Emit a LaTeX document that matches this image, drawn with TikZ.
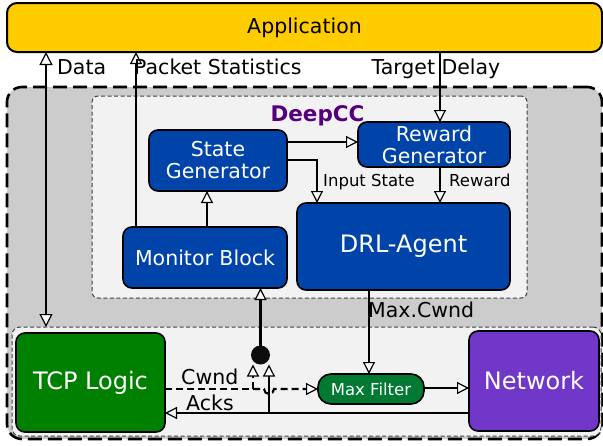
\documentclass[tikz,border=0pt]{standalone}
\usepackage{fontspec}
\setmainfont{DejaVu Sans}
\usetikzlibrary{arrows.meta}
\definecolor{appY}{HTML}{FFCC00}
\definecolor{blkB}{HTML}{0044AA}
\definecolor{tcpG}{HTML}{008000}
\definecolor{mfG}{HTML}{007A33}
\definecolor{netP}{HTML}{7137C8}
\definecolor{areaG}{HTML}{CCCCCC}
\definecolor{paneG}{HTML}{F2F2F2}
\definecolor{ccP}{HTML}{55007A}
\tikzset{
  opentip/.tip={Triangle[fill=white, length=12pt, width=12pt, line width=1.2pt]},
  bigtip/.tip={Triangle[fill=white, length=13pt, width=13pt, line width=1.2pt]},
  blk/.style={draw=black, line width=1.6pt, rounded corners=9pt, fill=blkB,
    text=white, align=center, inner sep=0pt, outer sep=0pt},
  pane/.style={draw=black!75, line width=1pt, dash pattern=on 4pt off 2.5pt,
    fill=paneG, rounded corners=6pt, inner sep=0pt, outer sep=0pt},
  conn/.style={line width=2.1pt, -opentip},
  lbl/.style={anchor=base west, inner sep=0pt, font=\fontsize{20.5}{22}\selectfont},
  slbl/.style={anchor=base west, inner sep=0pt, font=\fontsize{16.5}{18}\selectfont},
}
\begin{document}
\begin{tikzpicture}[x=1pt,y=-1pt]
\useasboundingbox (0,0) rectangle (603,445);

% sender host area and its two panes
\node[draw=black, fill=areaG, line width=2.6pt, dash pattern=on 14pt off 6pt,
  rounded corners=15pt, minimum width=595pt, minimum height=352pt, inner sep=0pt]
  (outer) at (304.5,263) {};
\node[pane, minimum width=435pt, minimum height=202pt] (deepcc) at (309.5,197) {};
\node[pane, rounded corners=8pt, minimum width=589pt, minimum height=109pt] (lower) at (306.5,381.5) {};
\node[anchor=base, inner sep=0pt, text=ccP, font=\bfseries\fontsize{21.5}{24}\selectfont]
  (cctitle) at (317.5,121) {DeepCC};

% application on top
\node[draw=black, line width=2pt, fill=appY, rounded corners=10pt,
  minimum width=595pt, minimum height=49pt, inner sep=0pt, outer sep=0pt,
  font=\fontsize{20.5}{22}\selectfont] (app) at (304.5,27.5) {Application};

% DeepCC blocks
\node[blk, minimum width=138pt, minimum height=61pt, font=\fontsize{20.5}{22}\selectfont]
  (state) at (218,160.5) {State\\Generator};
\node[blk, minimum width=152pt, minimum height=45pt, font=\fontsize{20.5}{22}\selectfont]
  (reward) at (434,144.5) {Reward\\Generator};
\node[blk, minimum width=164pt, minimum height=61pt, font=\fontsize{20.5}{22}\selectfont]
  (monitor) at (205,257.5) {Monitor Block};
\node[blk, minimum width=213pt, minimum height=87pt, font=\fontsize{24}{26}\selectfont]
  (drl) at (403.5,246.5) {DRL-Agent};

% transport blocks
\node[blk, fill=tcpG, minimum width=149pt, minimum height=99pt, font=\fontsize{24}{26}\selectfont]
  (tcp) at (90.5,382.5) {TCP Logic};
\node[blk, fill=netP, minimum width=130pt, minimum height=100pt, font=\fontsize{24}{26}\selectfont]
  (network) at (534,381) {Network};
\node[blk, fill=mfG, rounded corners=13pt, minimum width=106pt, minimum height=30pt,
  font=\fontsize{16.5}{18}\selectfont] (maxf) at (371,389) {Max Filter};

% junction dot
\node[circle, fill=black!95, minimum size=19pt, inner sep=0pt, outer sep=0pt] (dot) at (260.5,355) {};

% application interface
\draw[line width=2.5pt, bigtip-bigtip] (app.south -| 46,0) -- (lower.north -| 46,0);
\draw[conn] (monitor.north -| 136,0) -- (app.south -| 136,0);
\draw[conn] (app.south -| 440,0) -- (reward.north -| 440,0);
\node[lbl] (ldata) at (57,74) {Data};
\node[lbl] (lpkt) at (134,74) {Packet Statistics};
\node[lbl, anchor=base] (ltd) at (436,74) {Target Delay};

% inside DeepCC
\draw[conn] (state.east |- 0,142) -- (reward.west |- 0,142);
\draw[conn] (state.east |- 0,160) -| (drl.north -| 317,0);
\draw[conn] (reward.south -| 440,0) -- (drl.north -| 440,0);
\draw[conn, line width=2.6pt] (monitor.north -| 207,0) -- (state.south -| 207,0);
\node[slbl] (linput) at (323,186) {Input State};
\node[slbl] (lreward) at (449,186) {Reward};

% feedback into the monitor and the window path
\draw[conn] (dot.north) -- (monitor.south -| dot.north);
\draw[conn] (drl.south -| 369,0) -- (maxf.north -| 369,0);
\node[lbl] (lmax) at (368,317) {Max.Cwnd};

\coordinate (cwj) at (253,389);
\coordinate (ackj) at (269,413);
\draw[conn, dash pattern=on 7pt off 4pt] (tcp.east |- cwj) -| (dot.south -| cwj);
\draw[conn, dash pattern=on 7pt off 4pt] (cwj) -- (264,389)
  arc[start angle=180, end angle=360, radius=5pt] -- (maxf.west);
\draw[conn] (network.west |- ackj) -- (tcp.east |- ackj);
\draw[conn] (ackj) -- (dot.south -| ackj);
\draw[conn] (maxf.east |- 0,388) -- (network.west |- 0,388);
\node[lbl] (lcwnd) at (181,384) {Cwnd};
\node[lbl] (lacks) at (186,410) {Acks};
\end{tikzpicture}
\end{document}
